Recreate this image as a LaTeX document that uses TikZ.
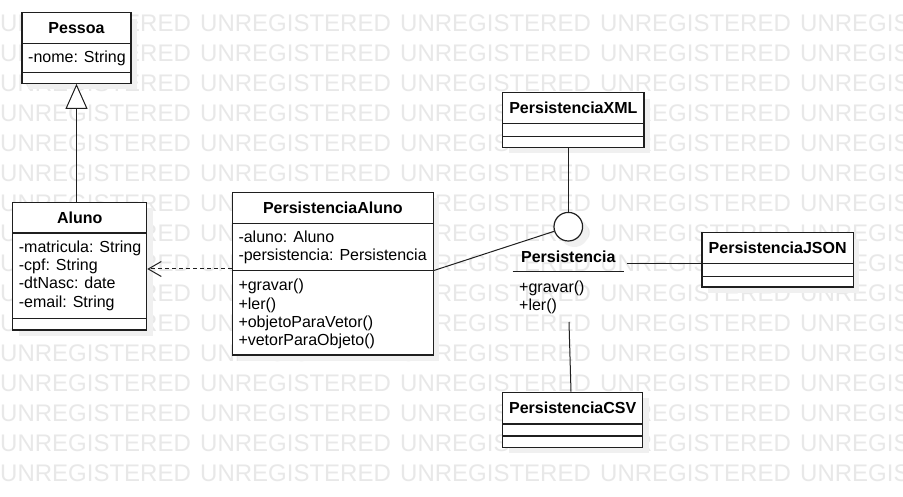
\documentclass[tikz,border=0pt]{standalone}
\usepackage{fontspec}
\setmainfont{Liberation Sans}
\usetikzlibrary{arrows.meta,shadows,calc}
\begin{document}
\begin{tikzpicture}[x=1pt,y=-1pt,
  wm/.style={anchor=base west, inner sep=0, text=black!9, font=\fontsize{24}{24}\selectfont},
  umlbox/.style={draw=black!88, line width=1.2pt, fill=white, inner sep=0,
    general shadow={shadow xshift=6pt, shadow yshift=-6pt, fill=black!6}},
  div/.style={draw=black!88, line width=1.2pt},
  ttl/.style={anchor=base, inner sep=0, font=\bfseries\fontsize{16}{18}\selectfont},
  mem/.style={anchor=base west, inner sep=0, font=\fontsize{16}{18}\selectfont},
  conn/.style={draw=black!88, line width=1pt},
]
\useasboundingbox[fill=white] (0,0) rectangle (903,497);
% watermark
\foreach \k in {0,...,15}{
  \foreach \j in {0,...,4}{
    \node[wm] (wm-\j-\k) at (200*\j, 31.5+30*\k) {UNREGISTERED};
  }
}
% class boxes
\node[umlbox, minimum width=109pt, minimum height=70.6pt] (pessoa) at (76.5,48) {};
\node[umlbox, minimum width=134pt, minimum height=127.8pt] (aluno) at (79.7,266.1) {};
\node[umlbox, minimum width=201pt, minimum height=162.5pt] (pa) at (332.8,273.75) {};
\node[umlbox, minimum width=141.3pt, minimum height=54.6pt] (xml) at (573.35,120) {};
\node[umlbox, minimum width=151.3pt, minimum height=54.3pt] (json) at (777.65,259.85) {};
\node[umlbox, minimum width=140pt, minimum height=55pt] (csv) at (572.7,419.8) {};
\node[umlbox, circle, minimum size=28.6pt] (iface) at (568.3,226.7) {};
% dividers
\draw[div] (pessoa.west |- 0,43.3) -- (pessoa.east |- 0,43.3);
\draw[div] (pessoa.west |- 0,72.7) -- (pessoa.east |- 0,72.7);
\draw[div] (aluno.west |- 0,233) -- (aluno.east |- 0,233);
\draw[div] (aluno.west |- 0,318.3) -- (aluno.east |- 0,318.3);
\draw[div] (pa.west |- 0,223.3) -- (pa.east |- 0,223.3);
\draw[div] (pa.west |- 0,270.5) -- (pa.east |- 0,270.5);
\draw[div] (xml.west |- 0,123.3) -- (xml.east |- 0,123.3);
\draw[div] (xml.west |- 0,136.7) -- (xml.east |- 0,136.7);
\draw[div] (json.west |- 0,263.3) -- (json.east |- 0,263.3);
\draw[div] (json.west |- 0,276.2) -- (json.east |- 0,276.2);
\draw[div] (csv.west |- 0,424) -- (csv.east |- 0,424);
\draw[div] (csv.west |- 0,436) -- (csv.east |- 0,436);
% titles
\node[ttl] (pessoa-t) at (76.5,33.4) {Pessoa};
\node[ttl] (aluno-t) at (79.7,223.3) {Aluno};
\node[ttl] (pa-t) at (332.8,213.6) {PersistenciaAluno};
\node[ttl] (xml-t) at (573.35,113.7) {PersistenciaXML};
\node[ttl] (json-t) at (777.65,253.7) {PersistenciaJSON};
\node[ttl] (csv-t) at (572.7,413.9) {PersistenciaCSV};
% members
\node[mem] (pessoa-a1) at (28,62.4) {-nome: String};
\node[mem] (aluno-a1) at (18.7,252.5) {-matricula: String};
\node[mem] (aluno-a2) at (18.7,270.7) {-cpf: String};
\node[mem] (aluno-a3) at (18.7,288.9) {-dtNasc: date};
\node[mem] (aluno-a4) at (18.7,307.1) {-email: String};
\node[mem] (pa-a1) at (238.3,242.4) {-aluno: Aluno};
\node[mem] (pa-a2) at (238.3,260.7) {-persistencia: Persistencia};
\node[mem] (pa-m1) at (238.3,290.7) {+gravar()};
\node[mem] (pa-m2) at (238.3,309) {+ler()};
\node[mem] (pa-m3) at (238.3,327.3) {+objetoParaVetor()};
\node[mem] (pa-m4) at (238.3,345.6) {+vetorParaObjeto()};
% interface Persistencia
\node[ttl] (pers-t) at (568.3,262.4) {Persistencia};
\coordinate (persL) at (512.7,271.7);
\coordinate (persR) at (624.3,271.7);
\draw[conn] (persL) -- (persR);
\node[mem] (pers-m1) at (519,292.4) {+gravar()};
\node[mem] (pers-m2) at (519,310.4) {+ler()};
\coordinate (persE) at (626.7,263.5);
\coordinate (persS) at (569,322);
% connectors
\draw[conn, -{Triangle[open, length=25pt, width=22pt, fill=white]}] (pessoa.south |- aluno.north) -- (pessoa.south);
\draw[conn, dash pattern=on 4pt off 3pt, -{Straight Barb[length=13pt, width=15pt]}] (pa.west |- 0,269) -- (aluno.east |- 0,269);
\draw[conn] (pa.east |- 0,270.5) -- (iface);
\draw[conn] (iface.north) -- (iface.north |- xml.south);
\draw[conn] (persE) -- (json.west |- persE);
\draw[conn] (persS) -- ($(csv.north)+(-1.7,0)$);
\end{tikzpicture}
\end{document}
